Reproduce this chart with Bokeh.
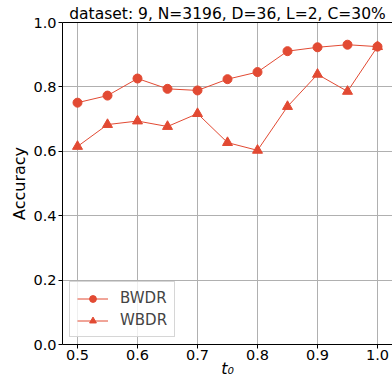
from bokeh.plotting import figure
from bokeh.models import (FixedTicker, NumeralTickFormatter, Legend, LegendItem,
                          LinearAxis, Range1d)
from bokeh.embed import file_html
from bokeh.resources import INLINE

t0 = [0.5, 0.55, 0.6, 0.65, 0.7, 0.75, 0.8, 0.85, 0.9, 0.95, 1.0]
bwdr = [0.751, 0.773, 0.826, 0.794, 0.789, 0.824, 0.846, 0.911, 0.923, 0.931, 0.925]
wbdr = [0.615, 0.683, 0.694, 0.677, 0.717, 0.627, 0.603, 0.739, 0.839, 0.786, 0.925]
x_ticks = [0.5, 0.6, 0.7, 0.8, 0.9, 1.0]
y_ticks = [0.0, 0.2, 0.4, 0.6, 0.8, 1.0]
title_text = "dataset: 9, N=3196, D=36, L=2, C=30%"
COLOR = "#E24A33"
FONT = "DejaVu Sans"

p = figure(width=392, height=381, output_backend="svg", toolbar_location=None,
           x_range=Range1d(0.475, 1.025), y_range=Range1d(0.0, 1.0),
           min_border_left=62, min_border_right=0, min_border_top=22, min_border_bottom=37)
p.outline_line_color = None
p.background_fill_color = "white"
p.border_fill_color = "white"

p.title.text = title_text
p.title.align = "center"
p.title.text_font = FONT
p.title.text_font_size = "15.5px"
p.title.text_font_style = "normal"
p.title.text_color = "black"
p.title.standoff = 0
p.title.offset = 0

for ax in (p.xaxis[0], p.yaxis[0]):
    ax.major_label_text_font = FONT
    ax.major_label_text_font_size = "14.5px"
    ax.major_label_text_color = "black"
    ax.major_tick_in = 0
    ax.major_tick_out = 4
    ax.minor_tick_line_color = None
    ax.axis_line_color = "black"
    ax.major_tick_line_color = "black"
    ax.formatter = NumeralTickFormatter(format="0.0")
    ax.major_label_standoff = 2

p.xaxis[0].major_label_standoff = 1
p.xaxis[0].ticker = FixedTicker(ticks=x_ticks)
p.yaxis[0].ticker = FixedTicker(ticks=y_ticks)
p.yaxis[0].axis_label = "Accuracy"
p.yaxis[0].axis_label_text_font = FONT
p.yaxis[0].axis_label_text_font_size = "16px"
p.yaxis[0].axis_label_text_font_style = "normal"
p.yaxis[0].axis_label_text_color = "black"
p.yaxis[0].axis_label_standoff = 1
p.xaxis[0].axis_label = "t\u2080"
p.xaxis[0].axis_label_text_font = FONT
p.xaxis[0].axis_label_text_font_size = "16px"
p.xaxis[0].axis_label_text_font_style = "italic"
p.xaxis[0].axis_label_text_color = "black"
p.xaxis[0].axis_label_standoff = -4

top = LinearAxis(ticker=FixedTicker(ticks=[]), major_label_text_font_size="0px",
                 major_tick_line_color=None, minor_tick_line_color=None,
                 axis_line_color="black", major_label_standoff=0)
p.add_layout(top, "above")

p.xgrid.ticker = FixedTicker(ticks=x_ticks)
p.ygrid.ticker = FixedTicker(ticks=y_ticks)
for g in (p.xgrid[0], p.ygrid[0]):
    g.grid_line_color = "#b0b0b0"
    g.grid_line_width = 1

l1 = p.line(t0, bwdr, line_color=COLOR, line_width=1)
m1 = p.scatter(t0, bwdr, marker="circle", size=9, fill_color=COLOR, line_color=COLOR)
l2 = p.line(t0, wbdr, line_color=COLOR, line_width=1)
m2 = p.scatter(t0, wbdr, marker="triangle", size=10, fill_color=COLOR, line_color=COLOR)

legend = Legend(items=[LegendItem(label="BWDR", renderers=[l1, m1]),
                       LegendItem(label="WBDR", renderers=[l2, m2])],
                location="bottom_left", margin=7, padding=7, spacing=4,
                glyph_width=31, glyph_height=17, label_height=17, label_standoff=12,
                label_text_font=FONT, label_text_font_size="15px",
                border_line_color="#cccccc", border_line_alpha=0.8,
                background_fill_alpha=0.8)
p.add_layout(legend)

open("out.html", "w").write(file_html(p, INLINE))
